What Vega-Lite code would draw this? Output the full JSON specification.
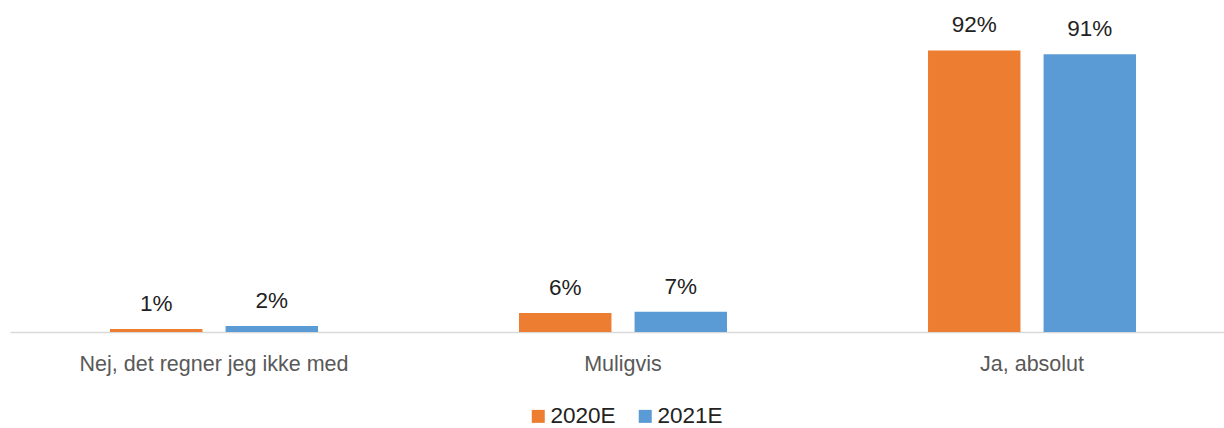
{
  "$schema": "https://vega.github.io/schema/vega-lite/v6.json",
  "width": 1214,
  "height": 305,
  "autosize": {"type": "none"},
  "padding": {"left": 10, "top": 27, "right": 0, "bottom": 96},
  "background": "white",
  "config": {"view": {"stroke": null}, "font": "Liberation Sans"},
  "data": {
    "values": [
      {"category": "Nej, det regner jeg ikke med", "year": "2020E", "value": 0.010},
      {"category": "Nej, det regner jeg ikke med", "year": "2021E", "value": 0.020},
      {"category": "Muligvis", "year": "2020E", "value": 0.062},
      {"category": "Muligvis", "year": "2021E", "value": 0.066},
      {"category": "Ja, absolut", "year": "2020E", "value": 0.923},
      {"category": "Ja, absolut", "year": "2021E", "value": 0.911}
    ]
  },
  "encoding": {
    "x": {
      "field": "category",
      "type": "nominal",
      "sort": ["Nej, det regner jeg ikke med", "Muligvis", "Ja, absolut"],
      "scale": {"paddingInner": 0.4914, "paddingOuter": 0.2298, "align": 0.532},
      "axis": {
        "title": null,
        "labelAngle": 0,
        "ticks": false,
        "tickSize": 0,
        "grid": false,
        "domainColor": "#D9D9D9",
        "domainWidth": 1.5,
        "labelFont": "Liberation Sans",
        "labelFontSize": 21.5,
        "labelColor": "#595959",
        "labelBaseline": "alphabetic",
        "labelPadding": 38,
        "labelLimit": 0
      }
    },
    "xOffset": {
      "field": "year",
      "type": "nominal",
      "sort": ["2020E", "2021E"],
      "scale": {"paddingInner": 0.2, "paddingOuter": 0}
    },
    "y": {
      "field": "value",
      "type": "quantitative",
      "scale": {"domain": [0, 1]},
      "axis": null
    }
  },
  "layer": [
    {
      "mark": {"type": "bar"},
      "encoding": {
        "color": {
          "field": "year",
          "type": "nominal",
          "scale": {"domain": ["2020E", "2021E"], "range": ["#ED7D31", "#5B9BD5"]},
          "legend": {
            "title": null,
            "orient": "none",
            "direction": "horizontal",
            "legendX": 517,
            "legendY": 378,
            "symbolType": "square",
            "symbolSize": 169,
            "symbolStrokeWidth": 0,
            "symbolOpacity": 1,
            "labelFont": "Liberation Sans",
            "labelFontSize": 22.5,
            "labelColor": "#222222",
            "labelOffset": 1,
            "columnPadding": 18,
            "padding": 0
          }
        }
      }
    },
    {
      "mark": {"type": "text", "baseline": "alphabetic", "dy": -18, "fontSize": 22.5, "color": "#222222", "font": "Liberation Sans"},
      "encoding": {
        "text": {"field": "value", "type": "quantitative", "format": ".0%"}
      }
    }
  ]
}
